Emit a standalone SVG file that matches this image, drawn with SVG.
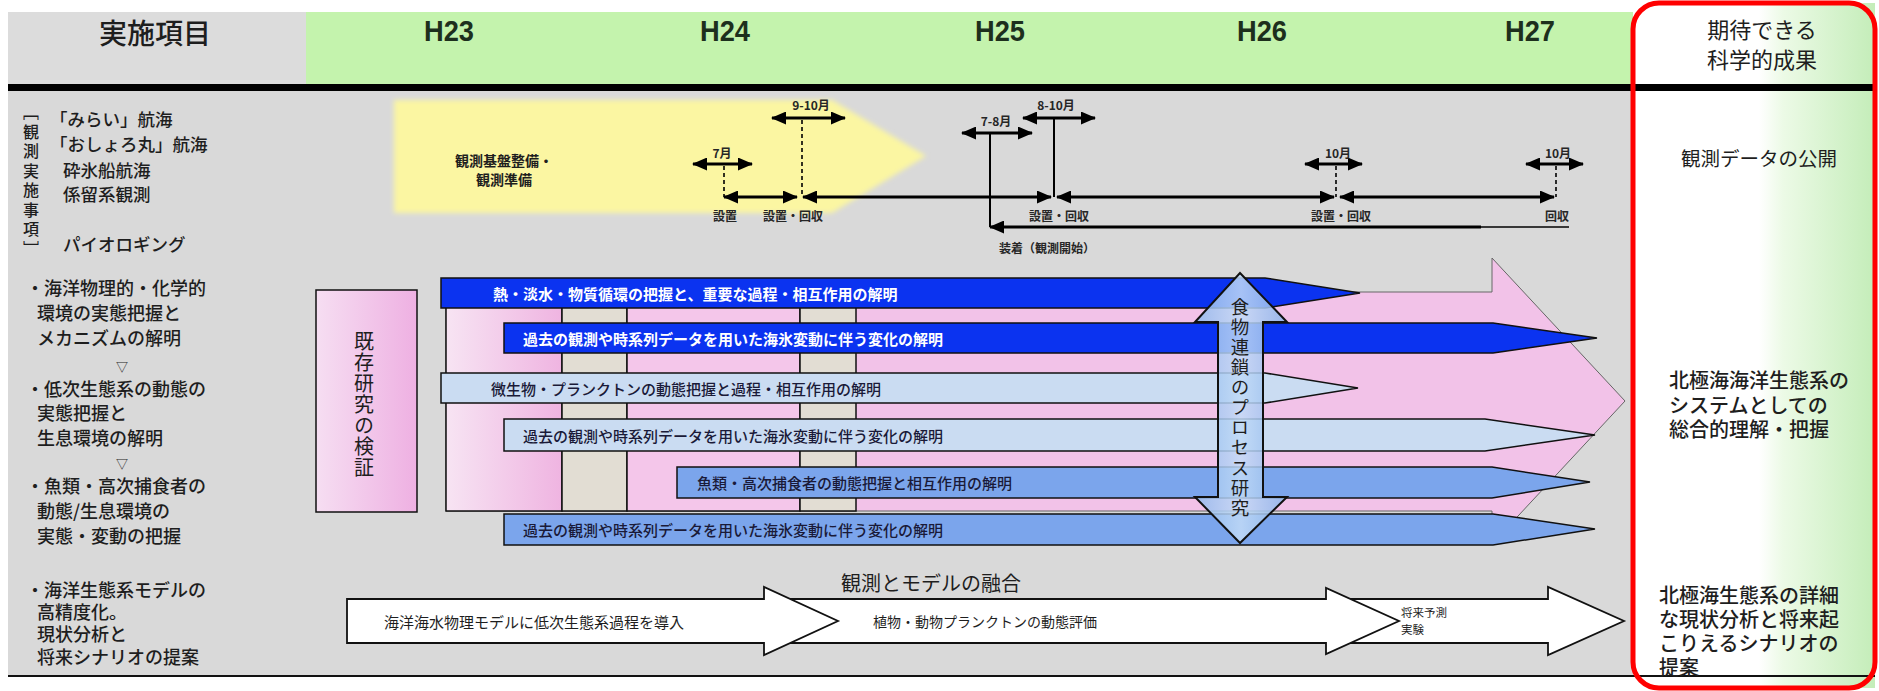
<svg xmlns="http://www.w3.org/2000/svg" width="1879" height="691" viewBox="0 0 1879 691">
<defs>
<style>
text { font-family: "Noto Sans CJK JP", "Noto Sans", sans-serif; fill: #1e1e1e; }
.c { text-anchor: middle; }
.m { dominant-baseline: central; }
.v { writing-mode: vertical-rl; text-anchor: middle; }
.yr { font-family: "Liberation Sans", Arial, sans-serif; font-size: 30px; font-weight: 700; fill: #1d2f1d; text-anchor: middle; dominant-baseline: central; }
.lt { font-size: 18px; font-weight: 500; dominant-baseline: central; }
.ob { font-size: 17.5px; font-weight: 500; dominant-baseline: central; }
.lbl { font-size: 12px; font-weight: 700; fill: #262626; text-anchor: middle; dominant-baseline: central; }
.bw { font-size: 15px; font-weight: 700; fill: #ffffff; dominant-baseline: central; }
.bd { font-size: 15px; font-weight: 500; fill: #1a1a38; dominant-baseline: central; }
.bar { stroke: #111; stroke-width: 1.5; }
.dk { fill: #0b33f0; }
.lb { fill: #cadcf2; }
.md { fill: #7ba5ec; }
.tl { stroke: #000; stroke-width: 3; fill: none; }
.ds { stroke: #000; stroke-width: 1.6; stroke-dasharray: 4 3; fill: none; }
.sl { stroke: #000; stroke-width: 2; fill: none; }
.wa { fill: #ffffff; stroke: #111; stroke-width: 1.8; }
.rc { font-size: 20px; font-weight: 500; dominant-baseline: central; }
.box { stroke: #111; stroke-width: 1.5; }
</style>
<linearGradient id="gRight" x1="0" y1="0" x2="1" y2="0">
<stop offset="0" stop-color="#ffffff"/>
<stop offset="0.52" stop-color="#ffffff"/>
<stop offset="0.62" stop-color="#ecfae6"/>
<stop offset="1" stop-color="#c4edb9"/>
</linearGradient>
<linearGradient id="gKiz" x1="0" y1="0" x2="1" y2="0">
<stop offset="0" stop-color="#f6def2"/>
<stop offset="1" stop-color="#eeb0e2"/>
</linearGradient>
<linearGradient id="gPinkA" x1="0" y1="0" x2="1" y2="0">
<stop offset="0" stop-color="#f7e4f3"/>
<stop offset="1" stop-color="#efb4e1"/>
</linearGradient>
<linearGradient id="gDbl" x1="0" y1="0" x2="1" y2="0">
<stop offset="0" stop-color="#8fb8ec"/>
<stop offset="0.5" stop-color="#c2dbf7"/>
<stop offset="1" stop-color="#8ab3ea"/>
</linearGradient>
<filter id="soft" x="-5%" y="-10%" width="110%" height="120%">
<feGaussianBlur stdDeviation="2.5"/>
</filter>
<marker id="ah" viewBox="0 0 15 13" refX="14" refY="6.5" markerWidth="15" markerHeight="13" markerUnits="userSpaceOnUse" orient="auto-start-reverse">
<path d="M0,0 L15,6.5 L0,13 Z" fill="#000"/>
</marker>
</defs>

<g id="background">
<rect x="0" y="0" width="1879" height="691" fill="#ffffff"/>
<rect x="8" y="12" width="298" height="73" fill="#dcdcdc"/>
<rect x="306" y="12" width="1327" height="73" fill="#c4f3ad"/>
<rect x="8" y="91" width="1625" height="585" fill="#d9d9d9"/>
<rect x="1633" y="3" width="242" height="685" fill="url(#gRight)"/>
<rect x="8" y="84" width="1867" height="7" fill="#000"/>
<line x1="8" y1="676" x2="1875" y2="676" stroke="#111" stroke-width="2"/>
</g>

<g id="header">
<text x="155" y="32" class="c m" font-size="28" font-weight="500" fill="#222">実施項目</text>
<text x="449" y="30" class="yr" textLength="50" lengthAdjust="spacingAndGlyphs">H23</text>
<text x="725" y="30" class="yr" textLength="50" lengthAdjust="spacingAndGlyphs">H24</text>
<text x="1000" y="30" class="yr" textLength="50" lengthAdjust="spacingAndGlyphs">H25</text>
<text x="1262" y="30" class="yr" textLength="50" lengthAdjust="spacingAndGlyphs">H26</text>
<text x="1530" y="30" class="yr" textLength="50" lengthAdjust="spacingAndGlyphs">H27</text>
<text x="1762" y="28" class="c m" font-size="22">期待できる</text>
<text x="1762" y="58" class="c m" font-size="22">科学的成果</text>
</g>

<g id="left-items">
<text class="v" x="31" y="182" font-size="16" font-weight="500" letter-spacing="3.5">［観測実施事項］</text>
<text class="ob" x="50" y="118">「みらい」航海</text>
<text class="ob" x="50" y="143">「おしょろ丸」航海</text>
<text class="ob" x="63" y="169">砕氷船航海</text>
<text class="ob" x="63" y="193">係留系観測</text>
<text class="ob" x="63" y="243">パイオロギング</text>
<text class="lt" x="26" y="287">・海洋物理的・化学的</text>
<text class="lt" x="37" y="312">環境の実態把握と</text>
<text class="lt" x="37" y="337">メカニズムの解明</text>
<text class="c m" x="122" y="366" font-size="12">▽</text>
<text class="lt" x="26" y="388">・低次生態系の動態の</text>
<text class="lt" x="37" y="412">実態把握と</text>
<text class="lt" x="37" y="437">生息環境の解明</text>
<text class="c m" x="122" y="463" font-size="12">▽</text>
<text class="lt" x="26" y="485">・魚類・高次捕食者の</text>
<text class="lt" x="37" y="510">動態/生息環境の</text>
<text class="lt" x="37" y="535">実態・変動の把握</text>
<text class="lt" x="26" y="589">・海洋生態系モデルの</text>
<text class="lt" x="37" y="611">高精度化。</text>
<text class="lt" x="37" y="633">現状分析と</text>
<text class="lt" x="37" y="656">将来シナリオの提案</text>
</g>

<g id="node-preparation">
<polygon points="394,100 832,100 926,156 832,213 394,213" fill="#fbf6a2" filter="url(#soft)"/>
<text x="455" y="160" class="m" font-size="14" font-weight="700" fill="#333">観測基盤整備・</text>
<text x="476" y="179" class="m" font-size="14" font-weight="700" fill="#333">観測準備</text>
</g>

<g id="node-existing-research">
<rect x="316" y="290" width="101" height="222" fill="url(#gKiz)" class="box"/>
<text class="v" x="364" y="405" font-size="20" letter-spacing="1" fill="#333">既存研究の検証</text>
</g>

<g id="node-integration-arrow">
<polygon points="446,292 1492,292 1492,258 1625,401 1492,544 1492,511 446,511" fill="#f2c2e8" stroke="#666" stroke-width="1"/>
<rect x="446" y="292" width="116" height="219" fill="url(#gPinkA)" class="box"/>
<rect x="562" y="292" width="65" height="219" fill="#e2ddd3" class="box"/>
<rect x="627" y="292" width="173" height="219" fill="#f4c6ea" class="box"/>
<rect x="800" y="292" width="56" height="219" fill="#e2ddd3" class="box"/>
</g>

<g id="node-bar1">
<polygon class="bar dk" points="441,278 1265,278 1360,293 1265,308 441,308"/>
<text class="bw" x="493" y="293">熱・淡水・物質循環の把握と、重要な過程・相互作用の解明</text>
</g>
<g id="node-bar2">
<polygon class="bar dk" points="504,323 1493,323 1597,338 1493,353 504,353"/>
<text class="bw" x="523" y="338">過去の観測や時系列データを用いた海氷変動に伴う変化の解明</text>
</g>
<g id="node-bar3">
<polygon class="bar lb" points="441,373 1265,373 1358,388 1265,403 441,403"/>
<text class="bd" x="491" y="388">微生物・プランクトンの動態把握と過程・相互作用の解明</text>
</g>
<g id="node-bar4">
<polygon class="bar lb" points="504,419 1485,419 1595,435 1485,451 504,451"/>
<text class="bd" x="523" y="435">過去の観測や時系列データを用いた海氷変動に伴う変化の解明</text>
</g>
<g id="node-bar5">
<polygon class="bar md" points="677,467 1492,467 1590,482 1492,498 677,498"/>
<text class="bd" x="697" y="482">魚類・高次捕食者の動態把握と相互作用の解明</text>
</g>
<g id="node-bar6">
<polygon class="bar md" points="504,514 1493,514 1595,529 1493,545 504,545"/>
<text class="bd" x="523" y="529">過去の観測や時系列データを用いた海氷変動に伴う変化の解明</text>
</g>

<g id="node-food-chain">
<polygon points="1240,273 1287,322 1263,322 1263,497 1287,497 1240,543 1195,497 1218,497 1218,322 1195,322" fill="url(#gDbl)" fill-opacity="0.85" stroke="#111" stroke-width="2"/>
<text class="v" x="1240" y="408" font-size="18.5" letter-spacing="1.6" fill="#1c2440">食物連鎖のプロセス研究</text>
</g>

<g id="node-model">
<text x="931" y="582" class="c m" font-size="20">観測とモデルの融合</text>
<polygon class="wa" points="1330,599 1548,599 1548,587 1624,621 1548,655 1548,643 1330,643"/>
<polygon class="wa" points="780,599 1326,599 1326,588 1399,621 1326,654 1326,643 780,643"/>
<polygon class="wa" points="347,599 764,599 764,587 838,621 764,655 764,643 347,643"/>
<text x="384" y="621" class="m" font-size="15">海洋海水物理モデルに低次生態系過程を導入</text>
<text x="873" y="621" class="m" font-size="14">植物・動物プランクトンの動態評価</text>
<text class="m" font-size="11.5"><tspan x="1401" y="612">将来予測</tspan><tspan x="1401" y="629">実験</tspan></text>
</g>

<g id="node-results">
<text x="1759" y="157" class="c m" font-size="19.5">観測データの公開</text>
<text class="rc"><tspan x="1669" y="379">北極海海洋生態系の</tspan><tspan x="1669" y="404">システムとしての</tspan><tspan x="1669" y="428">総合的理解・把握</tspan></text>
<text class="rc"><tspan x="1659" y="594">北極海生態系の詳細</tspan><tspan x="1659" y="618">な現状分析と将来起</tspan><tspan x="1659" y="642">こりえるシナリオの</tspan><tspan x="1659" y="666">提案</tspan></text>
<rect x="1633" y="3" width="242" height="685" rx="26" ry="26" fill="none" stroke="#ff0000" stroke-width="5"/>
</g>

<g id="connectors">
<line class="ds" x1="724" y1="166" x2="724" y2="197"/>
<line class="ds" x1="802" y1="120" x2="802" y2="197"/>
<line class="sl" x1="990" y1="133" x2="990" y2="227"/>
<line class="sl" x1="1054" y1="118" x2="1054" y2="197"/>
<line class="ds" x1="1336" y1="166" x2="1336" y2="197"/>
<line class="ds" x1="1556" y1="166" x2="1556" y2="197"/>
<line class="tl" x1="693" y1="164" x2="752" y2="164" marker-start="url(#ah)" marker-end="url(#ah)"/>
<line class="tl" x1="772" y1="118" x2="845" y2="118" marker-start="url(#ah)" marker-end="url(#ah)"/>
<line class="tl" x1="962" y1="133" x2="1032" y2="133" marker-start="url(#ah)" marker-end="url(#ah)"/>
<line class="tl" x1="1023" y1="118" x2="1095" y2="118" marker-start="url(#ah)" marker-end="url(#ah)"/>
<line class="tl" x1="1305" y1="164" x2="1362" y2="164" marker-start="url(#ah)" marker-end="url(#ah)"/>
<line class="tl" x1="1526" y1="164" x2="1583" y2="164" marker-start="url(#ah)" marker-end="url(#ah)"/>
<line class="tl" x1="724" y1="197" x2="797" y2="197" marker-start="url(#ah)" marker-end="url(#ah)"/>
<line class="tl" x1="803" y1="197" x2="1051" y2="197" marker-start="url(#ah)" marker-end="url(#ah)"/>
<line class="tl" x1="1057" y1="197" x2="1334" y2="197" marker-start="url(#ah)" marker-end="url(#ah)"/>
<line class="tl" x1="1340" y1="197" x2="1554" y2="197" marker-start="url(#ah)" marker-end="url(#ah)"/>
<line class="tl" x1="1481" y1="227" x2="990" y2="227" marker-end="url(#ah)"/>
<line x1="1481" y1="227" x2="1569" y2="227" stroke="#000" stroke-width="1.5"/>
<text class="lbl" x="722" y="152">7月</text>
<text class="lbl" x="811" y="104">9-10月</text>
<text class="lbl" x="996" y="120">7-8月</text>
<text class="lbl" x="1056" y="104">8-10月</text>
<text class="lbl" x="1338" y="152">10月</text>
<text class="lbl" x="1558" y="152">10月</text>
<text class="lbl" x="725" y="215">設置</text>
<text class="lbl" x="793" y="215">設置・回収</text>
<text class="lbl" x="1059" y="215">設置・回収</text>
<text class="lbl" x="1047" y="247">装着（観測開始）</text>
<text class="lbl" x="1341" y="215">設置・回収</text>
<text class="lbl" x="1557" y="215">回収</text>
</g>
</svg>
